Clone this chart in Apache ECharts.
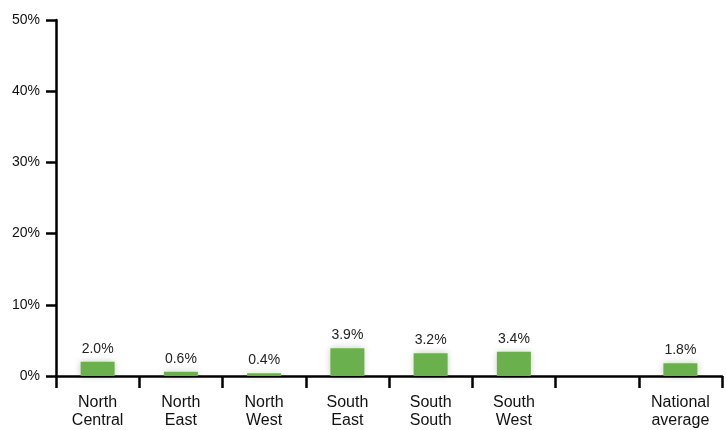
<!DOCTYPE html>
<html><head><meta charset="utf-8">
<script src="https://cdn.jsdelivr.net/npm/echarts@6/dist/echarts.min.js"></script>
<style>html,body{margin:0;padding:0;background:#fff}#c{width:726px;height:430px}</style>
</head><body><div id="c"></div>
<script>
const categories = ['North\nCentral','North\nEast','North\nWest','South\nEast','South\nSouth','South\nWest','','National\naverage'];
const values = [2.0, 0.6, 0.4, 3.9, 3.2, 3.4, null, 1.8];
const yTicks = [0, 10, 20, 30, 40, 50];

const chart = echarts.init(document.getElementById('c'));
chart.setOption({
  animation: false,
  grid: {left: 56, right: 4, top: 20, bottom: 49, containLabel: false},
  xAxis: {
    type: 'category', data: categories,
    axisLine: {lineStyle: {color: '#000', width: 2.5}},
    axisTick: {show: true, length: 12, lineStyle: {color: '#000', width: 2.5}},
    axisLabel: {color: '#111', fontSize: 16, fontFamily: 'Liberation Sans, Arial', lineHeight: 18, margin: 18, interval: 0}
  },
  yAxis: {
    type: 'value', min: yTicks[0], max: yTicks[yTicks.length-1], interval: 10,
    axisLine: {show: true, lineStyle: {color: '#000', width: 2.5}},
    axisTick: {show: true, length: 10, lineStyle: {color: '#000', width: 2.5}},
    splitLine: {show: false},
    axisLabel: {color: '#111', fontSize: 14, fontFamily: 'Liberation Sans, Arial', margin: 16, formatter: v => v + '%'}
  },
  series: [{
    type: 'bar', data: values, barWidth: 34,
    itemStyle: {color: '#6ab04c', borderColor: '#fff', borderWidth: 0, shadowBlur: 7, shadowColor: 'rgba(0,0,0,0.22)'},
    label: {show: true, position: 'top', distance: 6, color: '#222', fontSize: 14, fontFamily: 'Liberation Sans, Arial', formatter: p => p.value.toFixed(1) + '%'}
  }]
});
</script></body></html>
